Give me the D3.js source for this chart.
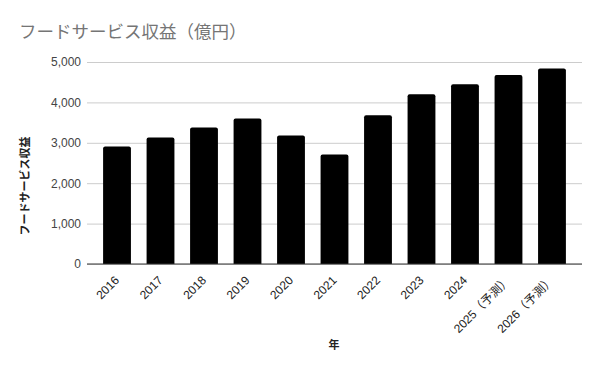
<!DOCTYPE html>
<html>
<head>
<meta charset="utf-8">
<script src="https://cdn.jsdelivr.net/npm/d3@7"></script>
<style>
  body { margin: 0; background: #fff; }
  text { font-family: "Liberation Sans", Arial, "Noto Sans CJK JP", sans-serif; }
</style>
</head>
<body>
<div class="chart"></div>
<script>
// Data
const years = ["2016", "2017", "2018", "2019", "2020", "2021", "2022", "2023", "2024", "2025（予測）", "2026（予測）"];
const revenue = [2910, 3130, 3380, 3600, 3180, 2710, 3680, 4200, 4450, 4680, 4840];
const yTicks = [0, 1000, 2000, 3000, 4000, 5000];

const width = 600;
const height = 371;
const margin = {top: 62, right: 18, bottom: 107, left: 87};

const svg = d3.select(".chart").append("svg")
    .attr("width", width)
    .attr("height", height);

// Scales
const xScale = d3.scaleBand()
    .domain(years)
    .range([margin.left, width - margin.right])
    .paddingInner(0.36)
    .paddingOuter(0.37);

const yScale = d3.scaleLinear()
    .domain([0, 5000])
    .range([height - margin.bottom, margin.top]);

// Title
svg.append("text")
    .attr("x", 19)
    .attr("y", 38)
    .attr("font-size", 17.5)
    .attr("fill", "#757575")
    .text("フードサービス収益（億円）");

// Gridlines + y labels
const yAxis = svg.append("g")
    .attr("transform", `translate(${margin.left},0)`)
    .call(d3.axisLeft(yScale)
        .tickValues(yTicks)
        .tickSize(-(width - margin.left - margin.right))
        .tickPadding(6)
        .tickFormat(d3.format(",")));
yAxis.select(".domain").remove();
yAxis.selectAll(".tick line").attr("stroke", "#cccccc");
yAxis.selectAll(".tick text")
    .attr("font-size", 12)
    .attr("fill", "#444444")
    .attr("font-family", "Liberation Sans, Arial, sans-serif");

// Bars with slightly rounded top corners
const r = 2;
svg.append("g")
    .selectAll("path")
    .data(years)
    .join("path")
    .attr("fill", "#000000")
    .attr("d", (d, i) => {
        const x0 = xScale(d);
        const x1 = x0 + xScale.bandwidth();
        const y0 = yScale(0);
        const y1 = yScale(revenue[i]);
        return `M${x0},${y0}V${y1 + r}Q${x0},${y1} ${x0 + r},${y1}H${x1 - r}Q${x1},${y1} ${x1},${y1 + r}V${y0}Z`;
    });

// Baseline
svg.append("line")
    .attr("x1", margin.left)
    .attr("x2", width - margin.right)
    .attr("y1", yScale(0))
    .attr("y2", yScale(0))
    .attr("stroke", "#333333")
    .attr("stroke-width", 1);

// X labels rotated -45
const xAxis = svg.append("g")
    .attr("transform", `translate(0,${yScale(0)})`)
    .call(d3.axisBottom(xScale).tickSize(0).tickPadding(0));
xAxis.select(".domain").remove();
xAxis.selectAll(".tick text")
    .attr("font-size", 12)
    .attr("fill", "#222222")
    .attr("text-anchor", "end")
    .attr("dy", null)
    .attr("transform", "translate(3,17) rotate(-45)");

// Axis titles
svg.append("text")
    .attr("x", 334)
    .attr("y", 349)
    .attr("text-anchor", "middle")
    .attr("font-size", 11)
    .attr("font-weight", "bold")
    .attr("fill", "#222222")
    .text("年");

svg.append("text")
    .attr("transform", "translate(29,186) rotate(-90)")
    .attr("text-anchor", "middle")
    .attr("font-size", 11)
    .attr("font-weight", "bold")
    .attr("fill", "#222222")
    .text("フードサービス収益");
</script>
</body>
</html>
